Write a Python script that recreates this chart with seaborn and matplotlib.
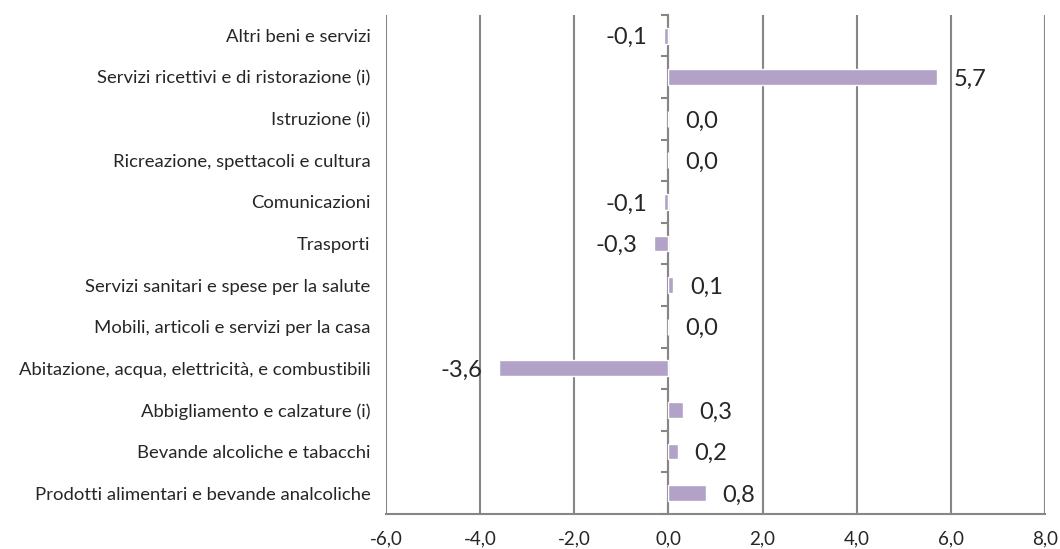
import pandas as pd
import seaborn as sns
import matplotlib.pyplot as plt

categories = [
    'Altri beni e servizi',
    'Servizi ricettivi e di ristorazione (i)',
    'Istruzione (i)',
    'Ricreazione, spettacoli e cultura',
    'Comunicazioni',
    'Trasporti',
    'Servizi sanitari e spese per la salute',
    'Mobili, articoli e servizi per la casa',
    'Abitazione, acqua, elettricità, e combustibili',
    'Abbigliamento e calzature (i)',
    'Bevande alcoliche e tabacchi',
    'Prodotti alimentari e bevande analcoliche',
]
values = [-0.1, 5.7, 0.0, 0.0, -0.1, -0.3, 0.1, 0.0, -3.6, 0.3, 0.2, 0.8]
xticks = [-6, -4, -2, 0, 2, 4, 6, 8]

df = pd.DataFrame({'categoria': categories, 'valore': values})

sns.set_style('white')
plt.rcParams['font.family'] = ['Lato', 'DejaVu Sans']

grid_col = '#868686'
bar_col = '#b3a2c7'

fig = plt.figure(figsize=(10.6, 5.49), dpi=100)
ax = fig.add_axes([0.364, 0.064, 0.622, 0.909])

sns.barplot(data=df, x='valore', y='categoria', orient='h', color=bar_col,
            width=0.38, saturation=1, ax=ax, zorder=3)

ax.set_xlim(-6, 8)
ax.set_xticks(xticks)
ax.set_xticklabels([f'{t:.1f}'.replace('.', ',') for t in xticks], fontsize=13.5)
ax.set_xlabel('')
ax.set_ylabel('')
ax.tick_params(axis='y', length=0, pad=11, labelsize=13.3)
ax.tick_params(axis='x', length=5, width=1.5, color=grid_col, pad=7)

for t in xticks:
    ax.axvline(t, color=grid_col, lw=1.5, zorder=1)

for s in ['top', 'right', 'left']:
    ax.spines[s].set_visible(False)
ax.spines['bottom'].set_color(grid_col)
ax.spines['bottom'].set_linewidth(1.5)

# category separators on the zero axis
sec = ax.secondary_yaxis(6 / 14)
sec.set_yticks([i + 0.5 for i in range(-1, len(categories))])
sec.set_yticklabels([])
sec.tick_params(length=5, width=1.5, color=grid_col)
sec.spines['left'].set_color(grid_col)
sec.spines['left'].set_linewidth(1.5)

for i, v in enumerate(values):
    lbl = f'{v:.1f}'.replace('.', ',')
    if v < 0:
        ax.annotate(lbl, (v, i), xytext=(-12, -1.5), textcoords='offset points',
                    ha='right', va='center', fontsize=17, zorder=4)
    else:
        ax.annotate(lbl, (v, i), xytext=(12, -1.5), textcoords='offset points',
                    ha='left', va='center', fontsize=17, zorder=4)

fig.savefig('out.png', dpi=100)
